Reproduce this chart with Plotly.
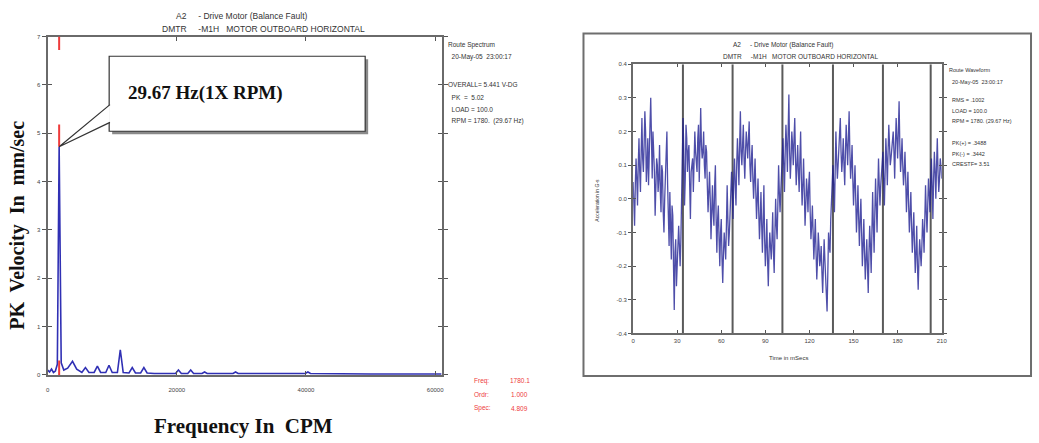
import plotly.graph_objects as go

W, H = 1039, 443

# ---------------- data ----------------
spec_freq = [0, 300, 600, 900, 1200, 1500, 1780, 2100, 2500, 3100,
             3850, 4500, 5300, 5850, 6400, 7200, 7700, 8200, 9000, 9500,
             10000, 10800, 11250, 11700, 12600, 13100, 13600, 14400, 14900, 15400,
             16500, 19800, 20250, 20700, 21700, 22150, 22600, 23900, 24300, 24700,
             28700, 29100, 29500, 39900, 40300, 40700, 50000, 61000]
spec_amp = [0.10, 0.06, 0.12, 0.05, 0.08, 0.22, 4.72, 0.25, 0.10, 0.14,
            0.28, 0.12, 0.05, 0.15, 0.05, 0.05, 0.18, 0.05, 0.05, 0.20,
            0.05, 0.05, 0.52, 0.05, 0.04, 0.15, 0.04, 0.04, 0.15, 0.04,
            0.03, 0.03, 0.10, 0.03, 0.03, 0.10, 0.03, 0.03, 0.06, 0.03,
            0.03, 0.06, 0.03, 0.03, 0.06, 0.03, 0.02, 0.02]
marker_freq = 1780.1
peak_amp = 4.72

# waveform samples read at whole milliseconds
wave = [0.05, -0.08, 0.12, -0.02, 0.18, 0.02, 0.24, 0.08, 0.26, 0.05,
        0.18, 0.10, 0.30, 0.06, 0.14, -0.05, 0.12, 0.02, 0.16, -0.04,
        0.08, -0.10, 0.05, 0.20, -0.08, 0.02, -0.18, -0.05, -0.33, -0.12,
        -0.22, -0.08, -0.20, 0.05, 0.24, -0.02, 0.22, 0.08, 0.16, -0.06,
        0.10, 0.02, 0.20, 0.10, 0.18, 0.05, 0.27, 0.12, 0.20, 0.06,
        0.14, -0.04, 0.08, -0.12, 0.04, -0.08, 0.10, -0.16, -0.02, -0.20,
        -0.06, -0.25, -0.10, -0.18, 0.04, -0.14, -0.04, 0.08, -0.06, 0.12,
        -0.02, 0.18, 0.04, 0.26, 0.10, 0.22, 0.06, 0.20, 0.12, 0.23,
        0.05, 0.16, 0.00, 0.12, -0.06, 0.06, -0.12, 0.02, -0.16, 0.04,
        -0.20, -0.06, -0.26, -0.10, -0.18, -0.04, -0.22, 0.00, -0.12, 0.10,
        -0.04, 0.06, 0.18, 0.02, 0.22, 0.08, 0.31, 0.06, 0.20, 0.10,
        0.24, 0.04, 0.16, 0.02, 0.20, -0.02, 0.12, -0.08, 0.06, -0.04,
        0.08, -0.12, -0.02, -0.18, -0.06, -0.24, -0.10, -0.20, -0.14, -0.28,
        -0.12, -0.22, -0.335, -0.10, -0.16, 0.02, 0.10, -0.04, 0.20, 0.06,
        0.14, 0.24, 0.08, 0.18, 0.04, 0.22, 0.10, 0.26, 0.06, 0.16,
        -0.02, 0.10, -0.10, 0.04, -0.14, 0.00, -0.20, -0.06, -0.24, -0.12,
        -0.28, -0.08, -0.22, 0.02, -0.16, 0.06, -0.10, 0.12, -0.02, 0.08,
        0.14, -0.02, 0.18, 0.04, 0.22, 0.10, 0.16, 0.20, 0.06, 0.24,
        0.12, 0.29, 0.08, 0.18, 0.04, 0.14, -0.04, 0.08, -0.10, 0.02,
        -0.16, -0.04, -0.22, -0.08, -0.27, -0.12, -0.20, -0.06, -0.16, 0.04,
        -0.10, 0.06, -0.04, 0.12, -0.06, 0.14, 0.00, 0.18, 0.02, 0.12, 0.06]
# waveform samples read at the half milliseconds (0.5, 1.5, ... 209.5)
wave_half = [-0.02, 0.04, 0.06, 0.10, 0.08, 0.14, 0.12, 0.16, 0.20, 0.10,
             0.04, 0.22, 0.14, 0.20, 0.08, 0.04, 0.10, 0.06, 0.02, 0.10,
             -0.04, 0.00, 0.12, 0.04, -0.14, -0.10, -0.02, -0.20, -0.16, -0.26,
             -0.14, -0.16, -0.12, 0.12, 0.14, 0.06, 0.18, 0.14, 0.04, 0.08,
             0.12, 0.16, 0.14, 0.08, 0.22, 0.20, 0.16, 0.14, 0.10, 0.16,
             0.04, 0.02, 0.00, -0.04, -0.04, 0.04, -0.06, -0.06, -0.12, -0.10,
             -0.18, -0.16, -0.14, -0.08, -0.06, -0.10, 0.02, 0.02, 0.06, 0.04,
             0.10, 0.12, 0.16, 0.14, 0.16, 0.12, 0.14, 0.16, 0.18, 0.10,
             0.12, 0.06, 0.06, 0.02, 0.00, -0.04, -0.06, -0.08, -0.06, -0.12,
             -0.14, -0.18, -0.16, -0.14, -0.12, -0.16, -0.10, -0.08, -0.02, 0.02,
             0.02, 0.12, 0.10, 0.14, 0.16, 0.20, 0.14, 0.12, 0.16, 0.18,
             0.12, 0.10, 0.08, 0.12, 0.06, 0.04, 0.02, -0.02, 0.02, 0.04,
             -0.04, -0.08, -0.10, -0.12, -0.16, -0.18, -0.14, -0.18, -0.22, -0.20,
             -0.18, -0.28, -0.22, -0.14, -0.06, 0.06, 0.04, 0.08, 0.12, 0.10,
             0.20, 0.14, 0.12, 0.10, 0.14, 0.16, 0.18, 0.14, 0.10, 0.06,
             0.04, 0.00, -0.04, -0.06, -0.06, -0.10, -0.14, -0.16, -0.18, -0.20,
             -0.16, -0.14, -0.10, -0.08, -0.04, -0.02, 0.02, 0.04, 0.04, 0.10,
             0.06, 0.08, 0.12, 0.14, 0.16, 0.12, 0.18, 0.14, 0.16, 0.18,
             0.20, 0.16, 0.12, 0.10, 0.08, 0.06, 0.02, -0.02, -0.04, -0.08,
             -0.10, -0.14, -0.16, -0.20, -0.18, -0.16, -0.14, -0.10, -0.06, -0.04,
             -0.02, 0.02, 0.04, 0.04, 0.06, 0.08, 0.10, 0.08, 0.06, 0.10]
period_marks_ms = [33.9, 67.7, 101.6, 136.0, 170.0, 202.5]

spec_xticks = [0, 20000, 40000, 60000]
spec_yticks = [0, 1, 2, 3, 4, 5, 6, 7]
wave_xticks = [0, 30, 60, 90, 120, 150, 180, 210]
wave_yticks = [-0.4, -0.3, -0.2, -0.1, 0.0, 0.1, 0.2, 0.3, 0.4]
wave_yticklabels = ["-0.4", "-0.3", "-0.2", "-0.1", "0.0", "0.1", "0.2", "0.3", "0.4"]

title1 = "A2     - Drive Motor (Balance Fault)"
title2 = "DMTR     -M1H   MOTOR OUTBOARD HORIZONTAL"
spec_info = ["Route Spectrum", "  20-May-05  23:00:17", "", "OVERALL= 5.441 V-DG",
             "  PK  =  5.02", "  LOAD = 100.0", "  RPM = 1780.  (29.67 Hz)"]
wave_info = ["Route Waveform", "  20-May-05  23:00:17", "", "  RMS = .1002",
             "  LOAD = 100.0", "  RPM = 1780. (29.67 Hz)", "",
             "  PK(+) = .3488", "  PK(-) = .3442", "  CRESTF= 3.51"]
cursor_labels = ["Freq:", "Ordr:", "Spec:"]
cursor_values = ["1780.1", "1.000", "4.809"]

# merge whole and half millisecond readings into one time series
wave_t, wave_v = [], []
for i, v in enumerate(wave):
    wave_t.append(i)
    wave_v.append(v)
    if i < len(wave_half):
        wave_t.append(i + 0.5)
        wave_v.append(wave_half[i])


def PX(x):
    return x / W


def PY(y):
    return 1 - y / H


# plot area positions (pixels)
L_X0, L_X1, L_Y0, L_Y1 = 46, 443, 34, 377
R_X0, R_X1, R_Y0, R_Y1 = 636, 947, 62, 335
spec_range = [0, 61000]
amp_range = [0, 7]

fig = go.Figure()

fig.add_trace(go.Scatter(x=spec_freq, y=spec_amp, mode="lines",
                         line=dict(color="#3030b4", width=1.6),
                         xaxis="x", yaxis="y", showlegend=False, hoverinfo="skip"))
fig.add_trace(go.Scatter(x=wave_t, y=wave_v, mode="lines",
                         line=dict(color="rgba(28,28,145,0.78)", width=1.3),
                         xaxis="x2", yaxis="y2", showlegend=False, hoverinfo="skip"))

tickfont = dict(family="Liberation Sans, Arial", size=6, color="#444")
axcommon = dict(showgrid=False, zeroline=False, showline=True, linecolor="#6a6a6a",
                linewidth=2, tickcolor="#555", tickfont=tickfont)

fig.update_layout(
    width=W, height=H, margin=dict(l=0, r=0, t=0, b=0),
    paper_bgcolor="white", plot_bgcolor="white",
    xaxis=dict(domain=[PX(L_X0), PX(L_X1)], range=spec_range, tickvals=spec_xticks,
               tickformat="d", ticks="inside", ticklen=4, mirror="ticks", anchor="y",
               ticklabelstandoff=8, **axcommon),
    yaxis=dict(domain=[PY(L_Y1), PY(L_Y0)], range=amp_range, tickvals=spec_yticks,
               ticks="outside", ticklen=4, mirror="ticks", anchor="x", **axcommon),
    yaxis3=dict(overlaying="y", range=amp_range, tickvals=spec_yticks, ticks="inside",
                ticklen=4, mirror="ticks", showticklabels=False, showline=False,
                showgrid=False, zeroline=False, tickcolor="#555", anchor="x"),
    xaxis2=dict(domain=[PX(R_X0), PX(R_X1)], range=[0, 210], tickvals=wave_xticks,
                ticks="inside", ticklen=3, mirror="ticks", anchor="y2", **axcommon),
    yaxis2=dict(domain=[PY(R_Y1), PY(R_Y0)], range=[-0.4, 0.4], tickvals=wave_yticks,
                ticktext=wave_yticklabels, ticks="outside", ticklen=3, mirror="ticks",
                anchor="x2", **axcommon),
    yaxis4=dict(overlaying="y2", range=[-0.4, 0.4], tickvals=wave_yticks, ticks="inside",
                ticklen=3, mirror="ticks", showticklabels=False, showline=False,
                showgrid=False, zeroline=False, tickcolor="#555", anchor="x2"),
)
fig.add_trace(go.Scatter(x=[None], y=[None], yaxis="y3", xaxis="x", showlegend=False))
fig.add_trace(go.Scatter(x=[None], y=[None], yaxis="y4", xaxis="x2", showlegend=False))

shapes = []
# right panel frame
shapes.append(dict(type="rect", xref="paper", yref="paper", x0=PX(586), x1=PX(1037),
                   y0=PY(378), y1=PY(31), line=dict(color="#6e6e6e", width=2),
                   layer="below"))
# period markers in waveform
for t in period_marks_ms:
    shapes.append(dict(type="line", xref="x2", yref="y2", x0=t, x1=t, y0=-0.4, y1=0.4,
                       line=dict(color="#5a5a5a", width=2), layer="below"))
# red cursor marks on spectrum
red = "#ee3b3b"
for (a, b) in [(6.72, 7.0), (peak_amp, 5.18), (-0.28, 0.3)]:
    shapes.append(dict(type="line", xref="x", yref="y", x0=marker_freq, x1=marker_freq,
                       y0=a, y1=b, line=dict(color=red, width=2)))

# callout box with shadow
bx0, bx1, by0, by1 = 108, 366, 54, 130
shapes.append(dict(type="rect", xref="paper", yref="paper", x0=PX(bx0 + 3), x1=PX(bx1 + 3),
                   y0=PY(by1 + 3), y1=PY(by0 + 3), line=dict(width=0), fillcolor="#8a8a8a"))
shapes.append(dict(type="rect", xref="paper", yref="paper", x0=PX(bx0), x1=PX(bx1),
                   y0=PY(by1), y1=PY(by0), line=dict(color="#333", width=1.2),
                   fillcolor="white"))
# wedge pointing to the peak (tip derived from data coordinates)
dom_x0, dom_x1 = PX(L_X0), PX(L_X1)
dom_y0, dom_y1 = PY(L_Y1), PY(L_Y0)
tip_x = dom_x0 + (marker_freq - spec_range[0]) / (spec_range[1] - spec_range[0]) * (dom_x1 - dom_x0)
tip_y = dom_y0 + (peak_amp - amp_range[0]) / (amp_range[1] - amp_range[0]) * (dom_y1 - dom_y0)
path = "M {:.5f},{:.5f} L {:.5f},{:.5f} L {:.5f},{:.5f}".format(
    PX(bx0 + 0.8), PY(103), tip_x, tip_y, PX(bx0 + 0.8), PY(121))
shapes.append(dict(type="path", xref="paper", yref="paper", path=path,
                   line=dict(color="#333", width=1.2), fillcolor="white"))
fig.update_layout(shapes=shapes)

ann = []


def txt(x, y, s, size=7, color="#333", xanchor="left", family="Liberation Sans, Arial",
        angle=0, bold=False):
    if bold:
        s = "<b>" + s + "</b>"
    ann.append(dict(x=PX(x), y=PY(y), xref="paper", yref="paper", text=s, showarrow=False,
                    xanchor=xanchor, yanchor="middle", textangle=angle,
                    font=dict(size=size, color=color, family=family)))


# left chart titles & texts
txt(241, 13, title1, size=8.5, xanchor="center")
txt(264, 26, title2, size=8.5, xanchor="center")
ys = [43, 55, 69, 83, 96, 108, 120]
for s, y in zip(spec_info, ys):
    if s:
        txt(447, y, s, size=6.5)
for i, (lab, val) in enumerate(zip(cursor_labels, cursor_values)):
    txt(474, 383 + 14 * i, lab, size=6.5, color=red)
    txt(522, 383 + 14 * i, val, size=6.5, color=red, xanchor="center")
txt(125, 91, "29.67 Hz(1X RPM)", size=19, color="#111",
    family="Liberation Serif, Times New Roman", bold=True)
txt(16, 225, "PK  Velocity  In  mm/sec", size=20, color="#111",
    family="Liberation Serif, Times New Roman", angle=-90, bold=True, xanchor="center")
txt(243, 429, "Frequency In  CPM", size=21, color="#111",
    family="Liberation Serif, Times New Roman", bold=True, xanchor="center")

# right chart titles & texts
txt(787, 43, title1, size=6.5, xanchor="center")
txt(805, 54, title2, size=6.5, xanchor="center")
ys2 = [68, 80, 89, 98, 109, 120, 131, 142, 153, 163]
for s, y in zip(wave_info, ys2):
    if s:
        txt(952, y, s, size=5.5)
txt(793, 360, "Time in mSecs", size=6, xanchor="center")
txt(600, 200, "Acceleration in G-s", size=5, angle=-90, xanchor="center")

fig.update_layout(annotations=ann)
fig.write_html("out.html", config={"displayModeBar": False},
               post_script="document.body.style.margin='0';")
